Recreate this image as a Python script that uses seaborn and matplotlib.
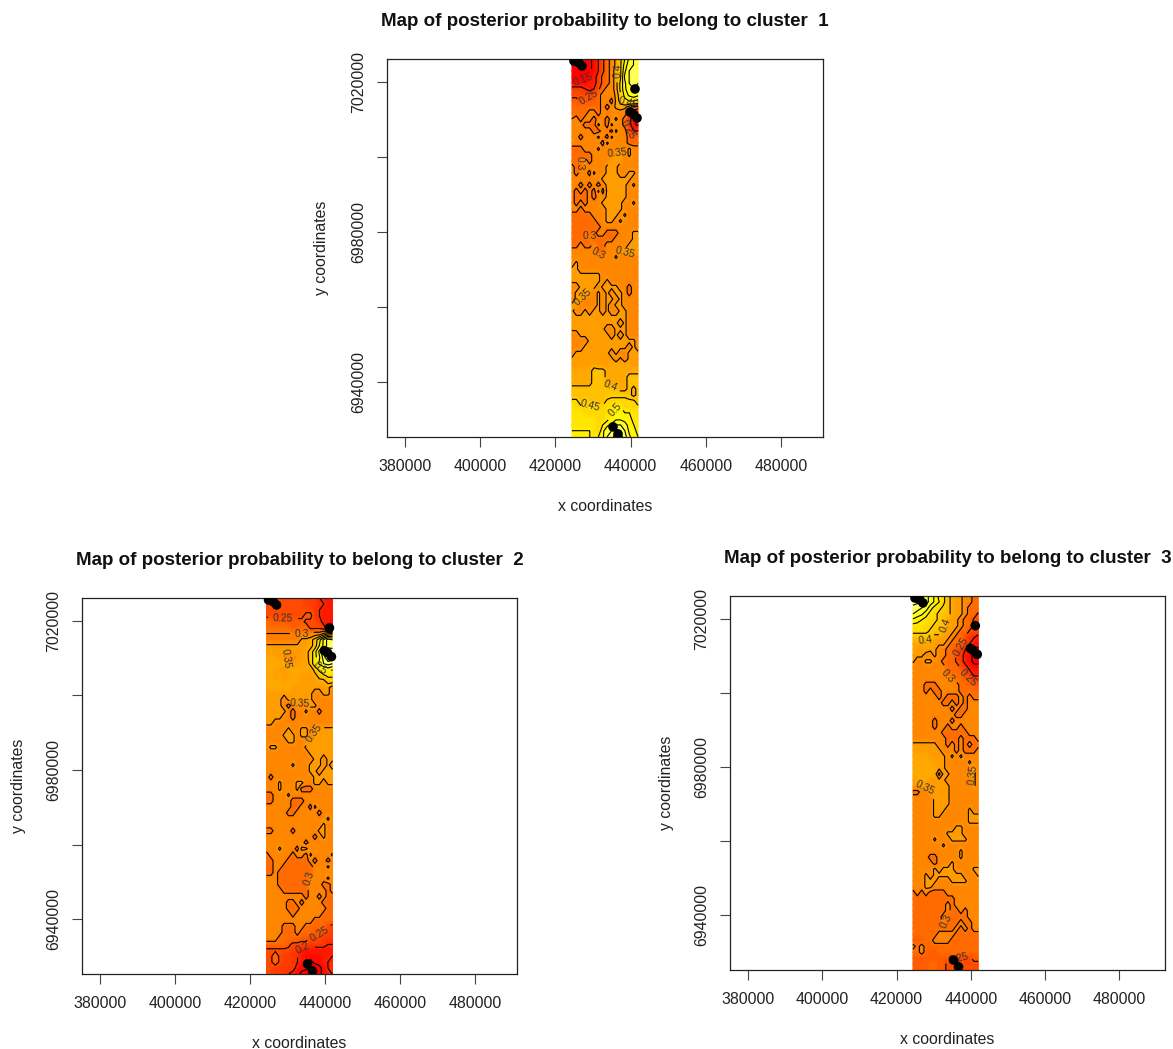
import numpy as np
import matplotlib
matplotlib.use('Agg')
import matplotlib.pyplot as plt
from matplotlib.colors import LinearSegmentedColormap
import seaborn as sns

# posterior probability, top row first, west to east
# one letter per cell: a = 0.10, b = 0.12, c = 0.14 ... z = 0.60, A = 0.62 ... E = 0.70
cluster1 = [
    "ccbbcdfhjlnruxzz", "cbbbcdfhjlnrvyzz", "ccbccdfhjlorwzAz", "ccccdegijlorxzAz",
    "ddddeegijloswzAz", "gggfefhjlloswyzy", "hhhhhhjlllnrvxyx", "iihiiijlljnqtuut",
    "jjjjjjjljlnonljj", "jjjjlljlllllljge", "kljlljlljlnljgdc", "llljjjnljnlljgdc",
    "llllljjlljnllhff", "lljlllnljnllljij", "llllllljnlllljjj", "jjjlllnllllllnll",
    "jjjjjlllllnnlnll", "jjlljllllnnnllll", "ljjlllllnnnlllll", "ljlljnllnnnllnnl",
    "lllllllnnnnnnnll", "lljljljlnnnnnlnl", "ljljljnjnnnnnlll", "ljjjljllnnnnnlll",
    "ljljlllnnnnnllnl", "lljlllllnnnnllll", "jjjjjlllnnnlnlll", "jjjjjjllnnlnllll",
    "jjjjjjjlllllllll", "jjjjjjlljjjlllnn", "jjjjljjjjjllllnn", "jjljjljjlllllnnn",
    "lllllljjlllnnnnn", "llllllllllnlllll", "lnllllllllllllll", "nnllllllllllllll",
    "nnnnnnnlllllllll", "nnnnnnnlnlllllll", "llnnnnlnnnnlljll", "lnnnnlnlnlnnljll",
    "lnnlllnlnnlnllll", "nnllllnlnlnnllll", "nllnlnnlnllnnlll", "nnnnnnnnnnnnnlll",
    "nnnnnnnnnnnlnlll", "nnnnnnnnllnnnlll", "llnnnnnnnlnlnlll", "llllnnnnnnnnnnnl",
    "lllnnnnnnnnnnlnl", "lnnnnnnnnlnllnnn", "nnnnnnnnnnlnlnnn", "nnnnnonnnooooonn",
    "oooooqqqoooooooo", "oooooqqqoooooqqq", "oooooqqqoooooqqq", "qqqqqqqqqqqooqoq",
    "qqqqqqqqqrrrrqoq", "ssqsqqqqsssssssq", "tsssssssstuussss", "tttsssssttvvuutt",
    "ttttttsstvwwvvtt", "ttttttsuwxzzyvut", "uuuuutswyzBAzwvt", "vvuuutuwzAEDAxvu",
]
cluster2 = [
    "hhhhhhhhhgggfeee", "hhhhhhhhhgggffee", "hhhhhhhhhhhgfeee", "hhhhhhhhhiigfeee",
    "jjiiiiiiihhhgeed", "jjjjjjiijjhhhgdc", "kkkkkkkkkkkllnpq", "kkkkkkkknnoqtxAz",
    "nnnnnnnnnnoquxAB", "nnnnnnnnnoqtxCEC", "ooonnllnnoqtwAED", "ooooonnnonqtxzAz",
    "ooonnooooonqsuvu", "oononnoonnnoqrss", "oooonooonnnnooqq", "oooooonnnnnnnnnl",
    "nnnnnnnnnnnllnnl", "nnnnlnnnnnnlllll", "nnnnljlnllnnllll", "nnnnnljllnlljlll",
    "nnnnlljlllllllll", "nnllllllllllllll", "lllllnllnnlnnnnn", "llllnnnlnnlnnnnn",
    "lllllnnlllnnnnnn", "lnnllllllnnnnnnn", "llllllllllnnnnnn", "lllllllllllnnlnn",
    "llllllnlllnnnlnl", "llllllllllnnlnnn", "ljlllllllllnnnnn", "lllnlllnnllnnlnn",
    "lllnlllnjjjlllll", "jjlllnllllllllll", "jjlllljjjlllllll", "lllllljjlljnllll",
    "llllljjllllljlll", "llllllllllllllnl", "lllllllllllllnll", "jjlllljlllllnnll",
    "llllllllllljlnll", "llllllllljllllll", "lllnllljnnllllll", "jllllljlljnlllln",
    "jjllljjjjjljlljl", "jjlljjjjjjjlllnl", "jjljjjjjjjjlllll", "llljjjjjjjllllnl",
    "llljjjjjjjllljjl", "lllljjjjjjlllljl", "llllllllljlljljj", "llllljjljlllljjj",
    "llllljjjlllllljj", "lllllljlllllljjj", "llllllllllljjjjj", "lllljjjlljjjjjhh",
    "lllljjjljjjiihhg", "llljjjjjiihhhggg", "jjjjjihhhhggggff", "hhhhhhggeeeeeeee",
    "hhjhgggfeddddeef", "hhjhgggfedcddeff", "hhgggggeddcbcdfg", "hhgggfedcbabcdef",
]
cluster3 = [
    "DDCAywtsqonnlljj", "CCBAywusqonnlljj", "BAzyvtsrqonnljjj", "zyxvtsrqqonnljjh",
    "wvutssrqonnljjhh", "tttssrqqonnljjhh", "ssssrqqonnljjhhg", "qqqqqoonnljjhgfe",
    "ooooonnnljjjhfed", "onnonnlljjhgfedc", "nnnllnlljjhgedcc", "nllnnlljjjhgedcc",
    "lllllllljjjhgedd", "lllllllljjjjhgee", "lllllllllljjjhgg", "llljjjllllljjjii",
    "llljljjlllljjjjj", "lllllljljjjljljj", "llllllljjljljlll", "llllllllljljjlll",
    "lllllllllljjllll", "llllljllljllllll", "llllljlljlljllll", "llllllljjjjjjlll",
    "lllllllljjjljjjl", "nnnnnnlljljljljj", "nnnnnnnllljljjjl", "oooonnnnlnlnllll",
    "ooooonnnlllllnll", "oooooonnllllllnl", "oooooojnnlllllnl", "nooonnnnllllllnl",
    "nnnnnnnnnlllllnl", "jjllnnnnnlllllll", "lllllnnnnlllllll", "lllllnnnnlllllll",
    "lllllnnnlllllnll", "lllllnnllllllnnn", "lllllllllllllnnn", "llllllllllnnllll",
    "llllllllnnnnllll", "lllllnlllnnnnlll", "lllllllnllllllll", "lllllllllllnllll",
    "lllljjlllllnllll", "llllljlllnllllll", "lllllnlnnnllllnn", "lllnlnnnnnnnllln",
    "lllnnnlllnnnnlll", "lllnnlllllllllll", "jljljjjjllllllll", "jjjjjjjjjjllllll",
    "jjjjjjjjljllllll", "jjjjjjjjljjljlll", "jjjjjjjljjjjjlll", "jjjjjjjljjjljjll",
    "jjjjjjjjjjljljll", "jjjjjjlllljjjjjj", "iiijjlllljjjjjjj", "ljljjjjjjjjjjjjj",
    "jjljiijjjjjjjjjj", "iiiiiiiiiiihhhii", "iiiijjiihhhhhhhh", "iiiijjiihhhhhhhh",
]
CODES = 'abcdefghijklmnopqrstuvwxyzABCDE'

# sampled sites, same in all the maps
site_x = [424950, 426280, 427080, 441180, 439850, 440650, 441710, 435330, 436660]
site_y = [7025600, 7025070, 7024270, 7018130, 7012000, 7011470, 7010400, 6928000, 6926130]

x_ticks = [380000, 400000, 420000, 440000, 460000, 480000]
y_ticks = [6940000, 6960000, 6980000, 7000000, 7020000]
y_tick_labels = ['6940000', '', '6980000', '', '7020000']

W, H = 1173, 1049
XLIM = (375200, 491200)
XLIM_WIDE = (375150, 492250)
YLIM = (6925300, 7026130)
STRIP = (424400, 442000)
VMIN, VMAX = .15, .70

sns.set_theme(style='ticks')
plt.rcParams['font.family'] = ['Liberation Sans', 'DejaVu Sans']

stops = [(.15, '#ff0000'), (.30, '#ff7c00'), (.36, '#ff9c00'),
         (.50, '#fff000'), (.56, '#ffff00'), (.70, '#ffffe0')]
heat = LinearSegmentedColormap.from_list(
    'heat', [((v - VMIN) / (VMAX - VMIN), c) for v, c in stops])


def decodeField(rows):
    return np.array([[.101 + .02 * CODES.index(ch) for ch in row] for row in rows])


def drawMap(fig, box, title, field, label_px, ylabel_pad, xlim=XLIM):
    left, top, right, bottom = box
    ax = fig.add_axes([left / W, 1 - bottom / H, (right - left) / W, (bottom - top) / H])
    z = decodeField(field)
    xs = np.linspace(STRIP[0], STRIP[1], z.shape[1])
    ys = np.linspace(YLIM[1], YLIM[0], z.shape[0])

    ax.set_xlim(xlim)
    ax.set_ylim(YLIM)
    ax.pcolormesh(xs, ys, z, shading='gouraud', cmap=heat, vmin=VMIN, vmax=VMAX)
    levels = np.round(np.arange(.05, .8, .05), 2)
    cs = ax.contour(xs, ys, z, levels=levels, colors='black', linewidths=.8)

    # contour labels are placed from picture pixels
    sx = (xlim[1] - xlim[0]) / (right - left)
    sy = (YLIM[1] - YLIM[0]) / (bottom - top)
    spots = [(xlim[0] + (px - left) * sx, YLIM[1] - (py - top) * sy) for px, py in label_px]
    ax.clabel(cs, inline=True, fontsize=7.5, fmt='%g', colors='#333333', manual=spots)

    sns.scatterplot(x=site_x, y=site_y, color='black', s=48, edgecolor='none',
                    legend=False, ax=ax, zorder=5)

    ax.set_xlim(xlim)
    ax.set_ylim(YLIM)
    ax.set_xticks(x_ticks)
    ax.set_xticklabels([str(v) for v in x_ticks])
    ax.set_yticks(y_ticks)
    ax.set_yticklabels(y_tick_labels, rotation=90, va='center')
    ax.tick_params(length=7, width=.8, color='#444444', labelsize=11.4, pad=9,
                   labelcolor='#222222')
    ax.tick_params(axis='y', pad=8)
    for s in ax.spines.values():
        s.set_linewidth(.9)
        s.set_color('#222222')
        s.set_visible(True)
    ax.set_xlabel('x coordinates', fontsize=11.4, labelpad=18, color='#222222')
    ax.set_ylabel('y coordinates', fontsize=11.4, labelpad=ylabel_pad, color='#222222')
    ax.set_title(title, fontsize=13.5, fontweight='bold', pad=23.5, color='#111111')
    return ax


fig = plt.figure(figsize=(W / 100, H / 100), dpi=100)

drawMap(fig, (387, 59, 823, 437), 'Map of posterior probability to belong to cluster  1', cluster1,
        [(583, 81), (589, 100), (616, 70), (628, 103), (628, 130), (617, 148), (580, 163),
         (583, 229), (590, 260), (625, 260), (580, 295), (610, 388), (590, 407), (618, 411)], 16)
drawMap(fig, (82, 598, 517, 974), 'Map of posterior probability to belong to cluster  2', cluster2,
        [(283, 621), (302, 636), (278, 664), (320, 668), (300, 704), (315, 733),
         (306, 876), (322, 936), (303, 951)], 14.5)
drawMap(fig, (730, 596, 1165, 970), 'Map of posterior probability to belong to cluster  3', cluster3,
        [(925, 640), (945, 625), (960, 645), (948, 676), (968, 678), (925, 782), (973, 775),
         (949, 921), (958, 958)], 14.5, xlim=XLIM_WIDE)

fig.savefig('out.png', dpi=100)
plt.close(fig)
